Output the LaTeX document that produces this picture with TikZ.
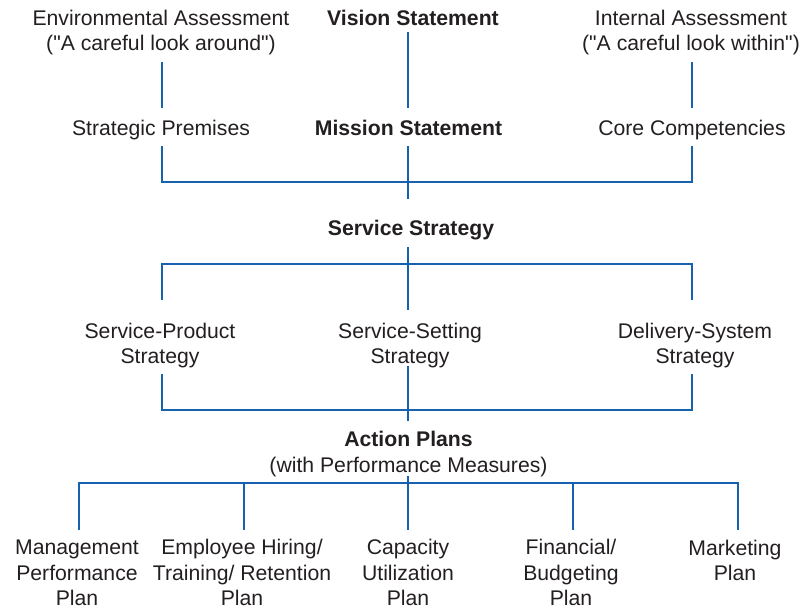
\documentclass[tikz,border=0pt]{standalone}
\usepackage{fontspec}
\setmainfont{Liberation Sans}
\definecolor{lineblue}{RGB}{22,98,174}
\definecolor{txt}{RGB}{35,31,32}
\newcommand{\dq}{\textquotedbl}
\begin{document}
\begin{tikzpicture}[x=0.75pt,y=-0.75pt,
  lbl/.style={inner sep=0pt, outer sep=0pt, align=center, text=txt,
    font=\fontsize{15.9}{19.2}\selectfont, text height=0.716em, text depth=0pt},
  bl/.style={lbl, font=\fontsize{15.9}{19.2}\selectfont\bfseries},
  conn/.style={draw=lineblue, line width=1.5pt, line cap=butt, line join=miter}]
\useasboundingbox (0,0) rectangle (801,608);
% nodes
\node[lbl] (env) at (161,46) {Environmental Assessment\\(\dq A careful look around\dq)};
\node[bl]  (vis) at (413,21) {Vision Statement};
\node[lbl] (int) at (691,46) {Internal Assessment\\(\dq A careful look within\dq)};
\node[lbl] (strat) at (161,130.5) {Strategic Premises};
\node[bl]  (miss) at (408.5,130.5) {Mission Statement};
\node[lbl] (core) at (692,130.5) {Core Competencies};
\node[bl]  (ss) at (411,231) {Service Strategy};
\node[lbl] (sp) at (160,359) {Service-Product\\Strategy};
\node[lbl] (sset) at (410,359) {Service-Setting\\Strategy};
\node[lbl] (ds) at (695,359) {Delivery-System\\Strategy};
\node[lbl] (ap) at (408.5,467.5) {\textbf{Action Plans}\\(with Performance Measures)};
\node[lbl] (mp) at (77,601) {Management\\Performance\\Plan};
\node[lbl] (eh) at (242,601) {Employee Hiring/\\Training/ Retention\\Plan};
\node[lbl] (cu) at (408,601) {Capacity\\Utilization\\Plan};
\node[lbl] (fb) at (571,601) {Financial/\\Budgeting\\Plan};
\node[lbl] (mk) at (735,576) {Marketing\\Plan};
% coordinates
\coordinate (envB) at (161.7,62);  \coordinate (stratT) at (161.7,108);
\coordinate (visB) at (408.3,32);  \coordinate (missT) at (408.3,108);
\coordinate (intB) at (692.3,62);  \coordinate (coreT) at (692.3,108);
\coordinate (stratB) at (161.7,146); \coordinate (coreB) at (692.3,146);
\coordinate (missB) at (408.3,146); \coordinate (ssT) at (408.3,199);
\coordinate (b1) at (161.7,181.7); \coordinate (b2) at (692.3,181.7);
\coordinate (ssB) at (408.3,247); \coordinate (ssetT) at (408.3,310);
\coordinate (spT) at (161.7,300); \coordinate (dsT) at (692.3,300);
\coordinate (b3) at (161.7,264); \coordinate (b4) at (692.3,264);
\coordinate (spB) at (161.7,374); \coordinate (dsB) at (692.3,374);
\coordinate (ssetB) at (408.3,366); \coordinate (apT) at (408.3,421);
\coordinate (b5) at (161.7,410); \coordinate (b6) at (692.3,410);
\coordinate (apB) at (408.3,476);
\coordinate (mpT) at (79.3,530); \coordinate (ehT) at (244,530);
\coordinate (cuT) at (408.3,530); \coordinate (fbT) at (573,530);
\coordinate (mkT) at (738,530);
\coordinate (b7) at (79.3,483); \coordinate (b8) at (738,483);
% connectors
\draw[conn] (envB) -- (stratT);
\draw[conn] (visB) -- (missT);
\draw[conn] (intB) -- (coreT);
\draw[conn] (stratB) -- (b1) -- (b2) -- (coreB);
\draw[conn] (missB) -- (ssT);
\draw[conn] (spT) -- (b3) -- (b4) -- (dsT);
\draw[conn] (ssB) -- (ssetT);
\draw[conn] (spB) -- (b5) -- (b6) -- (dsB);
\draw[conn] (ssetB) -- (apT);
\draw[conn] (mpT) -- (b7) -- (b8) -- (mkT);
\draw[conn] (apB) -- (cuT);
\draw[conn] (ehT) -- (ehT |- b7);
\draw[conn] (fbT) -- (fbT |- b7);
\end{tikzpicture}
\end{document}
